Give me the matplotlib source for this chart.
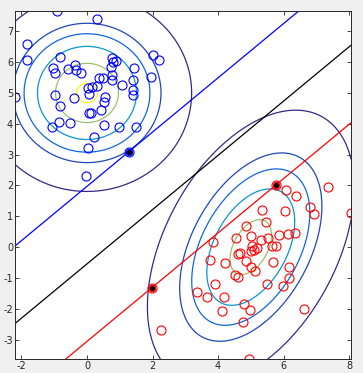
import numpy as np
import matplotlib
matplotlib.use("Agg")
import matplotlib.pyplot as plt
from matplotlib.colors import LinearSegmentedColormap

plt.rcParams['axes.unicode_minus'] = False

# class 1 (blue) samples
blue_x = [-0.91, 0.31, -1.83, -1.83, 2.02, 2.19, -0.83, -1.03, -0.97, -0.575,
          -0.36, -0.33, -0.196, 0.752, 0.80, 0.893, 0.72, 1.43, 0.77, 0.77,
          0.373, 0.477, 0.312, 1.077, 1.39, 1.96, 1.39, 1.41, 0.03, 0.14,
          0.05, -0.40, -0.97, -0.82, 0.557, 0.526, 0.435, 0.058, 0.11, -2.19,
          -0.85, -0.51, -1.06, 0.526, 0.985, 1.50, 0.20, 0.03, -0.025, 1.27]
blue_y = [7.67, 7.41, 6.60, 6.07, 6.23, 6.07, 6.17, 5.81, 5.66, 5.77,
          5.91, 5.76, 5.64, 6.12, 6.02, 6.05, 5.83, 5.80, 5.59, 5.42,
          5.50, 5.49, 5.24, 5.26, 5.43, 5.52, 5.10, 4.94, 5.16, 5.20,
          4.97, 4.82, 4.94, 4.57, 4.87, 4.72, 4.46, 4.36, 4.35, 4.87,
          4.06, 4.03, 3.88, 3.96, 3.91, 3.91, 3.58, 3.20, 2.32, 3.09]

# class 2 (red) samples
red_x = [5.78, 1.975, 6.06, 6.39, 7.35, 6.82, 6.92, 8.06, 5.33, 6.03,
         5.47, 4.86, 3.86, 4.55, 5.00, 5.31, 5.53, 5.86, 6.14, 6.36,
         5.03, 5.19, 5.10, 5.00, 5.66, 5.76, 4.68, 4.62, 3.74, 4.20,
         4.86, 5.69, 5.02, 5.14, 6.18, 6.18, 4.53, 4.61, 3.90, 5.50,
         5.97, 3.35, 3.66, 4.17, 4.80, 4.98, 4.13, 6.61, 4.75, 2.26, 4.95]
red_y = [2.03, -1.32, 1.86, 1.66, 1.95, 1.31, 1.08, 1.09, 1.21, 1.17,
         0.82, 0.69, 0.17, 0.28, 0.36, 0.24, 0.28, 0.40, 0.41, 0.47,
         0.03, -0.02, -0.09, -0.12, 0.05, 0.03, -0.18, -0.23, -0.41, -0.51,
         -0.46, -0.47, -0.64, -0.79, -0.64, -0.99, -0.92, -0.97, -1.19, -1.19,
         -1.25, -1.47, -1.61, -1.61, -1.85, -2.04, -2.08, -2.00, -2.42, -2.69, -3.63]

# support vectors
sv_x = [1.27, 5.78, 1.975]
sv_y = [3.09, 2.03, -1.32]
sv_edge = ['b', 'r', 'r']

# gaussian class models
blue_mu = [0.0, 5.0]
blue_cov = [[1.0, 0.0], [0.0, 1.0]]
red_mu = [5.0, 0.0]
red_cov = [[1.03, 0.63], [0.63, 2.04]]
levels = [0.00097, 0.0124, 0.0252, 0.0509, 0.1004, 0.1514]

# separating line y = slope*x + c  (margin +1, boundary, margin -1)
slope = 0.88
intercepts = [1.97, -0.545, -3.06]
line_colors = ['b', 'k', 'r']

parula = LinearSegmentedColormap.from_list(
    'parula', ['#352a87', '#0f5cdd', '#1481d6', '#06a4ca', '#2eb7a4',
               '#87bf77', '#d1bb59', '#fec832', '#f9fb0e'])


def gauss(X, Y, mu, cov):
    cov = np.array(cov)
    inv = np.linalg.inv(cov)
    dx = X - mu[0]
    dy = Y - mu[1]
    q = inv[0, 0] * dx * dx + 2 * inv[0, 1] * dx * dy + inv[1, 1] * dy * dy
    return np.exp(-0.5 * q) / (2 * np.pi * np.sqrt(np.linalg.det(cov)))


fig = plt.figure(figsize=(3.63, 3.73), dpi=100, facecolor='#f0f0f0')
ax = fig.add_axes([0.042, 0.0375, 0.925, 0.934])

all_x = blue_x + red_x
all_y = blue_y + red_y
xlim = (min(all_x), max(all_x))
ylim = (min(all_y), max(all_y))

gx = np.linspace(xlim[0], xlim[1], 400)
gy = np.linspace(ylim[0], ylim[1], 400)
GX, GY = np.meshgrid(gx, gy)
Z = gauss(GX, GY, blue_mu, blue_cov) + gauss(GX, GY, red_mu, red_cov)
ax.contour(GX, GY, Z, levels=levels, cmap=parula, linewidths=0.9)

xs = np.array(xlim)
for c, col in zip(intercepts, line_colors):
    ax.plot(xs, slope * xs + c, color=col, lw=0.9)

ax.plot(blue_x, blue_y, 'o', mfc='none', mec='b', ms=6.5, mew=0.8)
ax.plot(red_x, red_y, 'o', mfc='none', mec='r', ms=6.5, mew=0.8)
for x, y, e in zip(sv_x, sv_y, sv_edge):
    ax.plot(x, y, 'o', mfc='k', mec=e, ms=4.5, mew=0.8)

ax.set_xlim(xlim)
ax.set_ylim(ylim)
ax.set_xticks([-2, 0, 2, 4, 6, 8])
ax.set_yticks(range(-3, 8))
ax.tick_params(direction='in', top=True, right=True, labelsize=7,
               length=3, width=0.6, colors='#262626', pad=1.5)
for s in ax.spines.values():
    s.set_linewidth(0.7)
    s.set_color('#262626')

fig.savefig('out.png', dpi=100, facecolor=fig.get_facecolor())
